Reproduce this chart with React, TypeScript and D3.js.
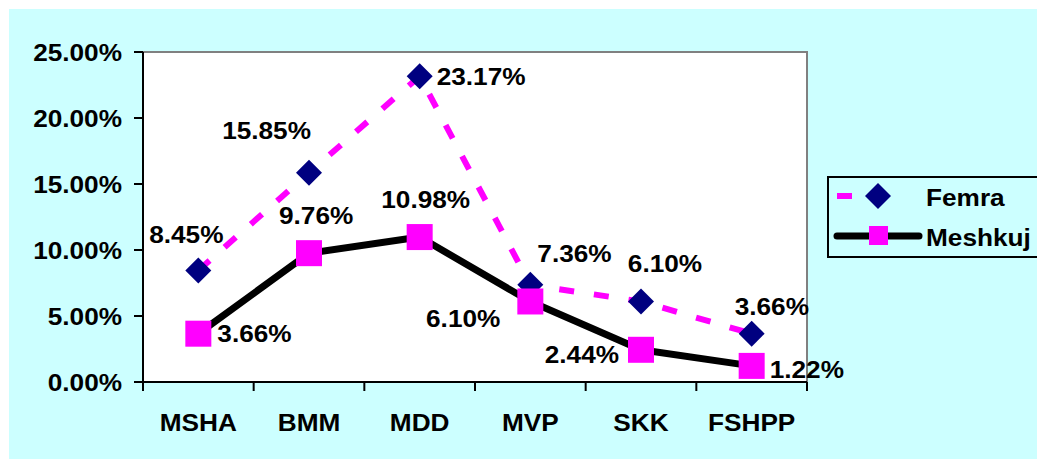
import React from "react";
import * as d3 from "d3";

const categories = ["MSHA", "BMM", "MDD", "MVP", "SKK", "FSHPP"];
const femra = [8.45, 15.85, 23.17, 7.36, 6.10, 3.66];
const meshkuj = [3.66, 9.76, 10.98, 6.10, 2.44, 1.22];
const yTicks = [0, 5, 10, 15, 20, 25];
const seriesNames = ["Femra", "Meshkuj"];

// label placement (style): [anchor, dx, dy]
const femraLabelPos: [string, number, number][] = [
  ["middle", -12, -36],
  ["end", 2, -42],
  ["start", 17, 0],
  ["start", 7, -32],
  ["middle", 24, -38],
  ["start", -17, -27],
];
const meshkujLabelPos: [string, number, number][] = [
  ["start", 19, 0],
  ["start", -30, -38],
  ["middle", 6, -38],
  ["end", -30, 17],
  ["end", -22, 5],
  ["start", 18, 3],
];

const W = 1037;
const H = 459;
const plot = { left: 143, right: 807, top: 52, bottom: 382 };
const FONT = "'Liberation Sans', Arial, sans-serif";

function T({
  x,
  y,
  anchor = "start",
  children,
}: {
  x: number;
  y: number;
  anchor?: string;
  children: React.ReactNode;
}) {
  return (
    <text
      transform={`translate(${x},${y}) scale(1.07,1)`}
      textAnchor={anchor as any}
      dominantBaseline="central"
      fontFamily={FONT}
      fontWeight={700}
      fontSize={24.5}
      fill="#000"
    >
      {children}
    </text>
  );
}

export default function App() {
  const x = d3
    .scaleBand<string>()
    .domain(categories)
    .range([plot.left, plot.right]);
  const y = d3.scaleLinear().domain([0, 25]).range([plot.bottom, plot.top]);
  const cx = (c: string) => (x(c) as number) + x.bandwidth() / 2;

  const line = d3
    .line<number>()
    .x((_, i) => cx(categories[i]))
    .y((d) => y(d));

  const fmt = (v: number) => v.toFixed(2) + "%";

  const diamond = (px: number, py: number, r: number) =>
    `M${px},${py - r}L${px + r},${py}L${px},${py + r}L${px - r},${py}Z`;

  return (
    <svg
      width={W}
      height={H}
      style={{ position: "absolute", left: 0, top: 0 }}
    >
      <rect x={9} y={9} width={W - 9} height={H - 9} fill="#CCFFFF" />
      <rect
        x={plot.left}
        y={plot.top}
        width={plot.right - plot.left}
        height={plot.bottom - plot.top}
        fill="#fff"
        stroke="#808080"
        strokeWidth={2}
      />
      {/* axes */}
      <line
        x1={plot.left}
        x2={plot.left}
        y1={plot.top}
        y2={plot.bottom}
        stroke="#000"
        strokeWidth={2}
      />
      <line
        x1={plot.left}
        x2={plot.right}
        y1={plot.bottom}
        y2={plot.bottom}
        stroke="#000"
        strokeWidth={2}
      />
      {yTicks.map((t) => (
        <g key={t}>
          <line
            x1={plot.left - 9}
            x2={plot.left}
            y1={y(t)}
            y2={y(t)}
            stroke="#000"
            strokeWidth={2}
          />
          <T x={122} y={y(t)} anchor="end">
            {t.toFixed(2) + "%"}
          </T>
        </g>
      ))}
      {categories.map((c, i) => (
        <line
          key={"xt" + i}
          x1={x(c) as number}
          x2={x(c) as number}
          y1={plot.bottom}
          y2={plot.bottom + 9}
          stroke="#000"
          strokeWidth={2}
        />
      ))}
      <line
        x1={plot.right}
        x2={plot.right}
        y1={plot.bottom}
        y2={plot.bottom + 9}
        stroke="#000"
        strokeWidth={2}
      />
      {categories.map((c) => (
        <T key={"xl" + c} x={cx(c)} y={422} anchor="middle">
          {c}
        </T>
      ))}

      {/* Femra dashed line */}
      <path
        d={line(femra) || ""}
        fill="none"
        stroke="#FF00FF"
        strokeWidth={6}
        strokeDasharray="15 20"
      />
      {/* Meshkuj solid line */}
      <path
        d={line(meshkuj) || ""}
        fill="none"
        stroke="#000"
        strokeWidth={7}
        strokeLinejoin="round"
      />
      {femra.map((v, i) => (
        <path
          key={"fd" + i}
          d={diamond(cx(categories[i]), y(v), 13)}
          fill="#000080"
        />
      ))}
      {meshkuj.map((v, i) => (
        <rect
          key={"ms" + i}
          x={cx(categories[i]) - 13}
          y={y(v) - 13}
          width={26}
          height={26}
          fill="#FF00FF"
        />
      ))}
      {femra.map((v, i) => (
        <T
          key={"fl" + i}
          x={cx(categories[i]) + femraLabelPos[i][1]}
          y={y(v) + femraLabelPos[i][2]}
          anchor={femraLabelPos[i][0]}
        >
          {fmt(v)}
        </T>
      ))}
      {meshkuj.map((v, i) => (
        <T
          key={"ml" + i}
          x={cx(categories[i]) + meshkujLabelPos[i][1]}
          y={y(v) + meshkujLabelPos[i][2]}
          anchor={meshkujLabelPos[i][0]}
        >
          {fmt(v)}
        </T>
      ))}

      {/* legend */}
      <rect
        x={828}
        y={177}
        width={240}
        height={80}
        fill="#CCFFFF"
        stroke="#000"
        strokeWidth={2}
      />
      <line
        x1={837}
        x2={897}
        y1={196}
        y2={196}
        stroke="#FF00FF"
        strokeWidth={6}
        strokeDasharray="15 20"
      />
      <path d={diamond(878, 196, 13)} fill="#000080" />
      <T x={926} y={197}>
        {seriesNames[0]}
      </T>
      <line
        x1={837}
        x2={919}
        y1={236}
        y2={236}
        stroke="#000"
        strokeWidth={7}
        strokeLinecap="round"
      />
      <rect x={869} y={226} width={19} height={19} fill="#FF00FF" />
      <T x={926} y={237}>
        {seriesNames[1]}
      </T>
    </svg>
  );
}
